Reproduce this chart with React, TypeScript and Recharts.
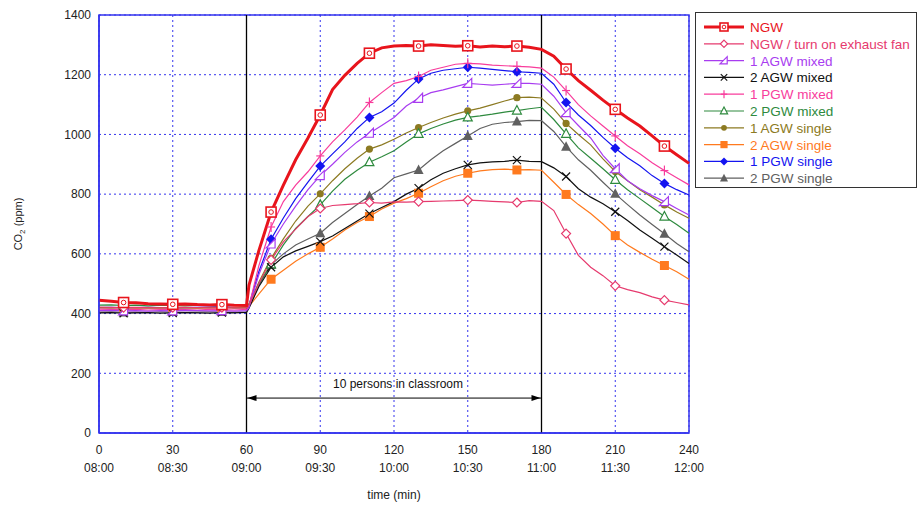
import React from 'react'
import {
    LineChart,
    Line,
    XAxis,
    YAxis,
    CartesianGrid,
    ReferenceLine,
    ReferenceArea,
    Label
} from 'recharts'

const FONT = '"Liberation Sans", Arial, sans-serif'
const BLUE = '#3434ee'

// time in minutes after 08:00
const minutes = [
    0, 5, 10, 15, 20, 25, 30, 35, 40, 45, 50, 55, 60, 61, 65, 70, 75, 80, 85, 90, 95, 100, 105, 110, 115,
    120, 125, 130, 135, 140, 145, 150, 155, 160, 165, 170, 175, 180, 185, 190, 195, 200, 205, 210, 215,
    220, 225, 230, 235, 240
]

const xTicks = [0, 30, 60, 90, 120, 150, 180, 210, 240]
const clockLabels = ['08:00', '08:30', '09:00', '09:30', '10:00', '10:30', '11:00', '11:30', '12:00']
const yTicks = [0, 200, 400, 600, 800, 1000, 1200, 1400]

// CO2 (ppm) per series
const ngw = [
    445, 441, 437, 436, 433, 432, 431, 432, 430, 429, 430, 428, 427, 495,
    610, 740, 830, 915, 988, 1065, 1150, 1198, 1238, 1272, 1290, 1296, 1298, 1296, 1300, 1298, 1295, 1297,
    1293, 1296, 1294, 1296, 1292, 1285, 1262, 1219, 1180, 1148, 1115, 1084, 1055, 1028, 995, 961, 932, 903
]
const ngwFan = [
    422, 421, 420, 421, 420, 419, 420, 421, 420, 419, 420, 419, 418, 428,
    500, 580, 640, 683, 725, 752, 762, 765, 768, 772, 770, 774, 773, 775, 776, 777, 778, 780,
    778, 776, 774, 772, 778, 776, 745, 668, 595, 555, 527, 493, 480, 470, 456, 445, 437, 429
]
const agw1Mixed = [
    410, 411, 409, 410, 408, 410, 409, 411, 410, 409, 410, 408, 410, 420,
    530, 633, 700, 760, 815, 862, 900, 940, 975, 1004, 1030, 1057, 1095, 1121, 1140, 1149, 1160, 1171,
    1168, 1165, 1168, 1171, 1171, 1168, 1128, 1073, 1030, 988, 930, 885, 845, 818, 795, 775, 752, 730
]
const agw2Mixed = [
    402, 403, 401, 402, 403, 401, 402, 403, 402, 401, 403, 402, 404, 418,
    490, 555, 590, 610, 625, 641, 660, 685, 710, 735, 755, 775, 800, 820, 848, 870, 885, 898,
    905, 908, 910, 914, 910, 909, 888, 859, 818, 790, 768, 741, 712, 680, 652, 624, 596, 568
]
const pgw1Mixed = [
    415, 414, 413, 414, 412, 413, 414, 413, 412, 414, 413, 412, 414, 424,
    560, 690, 775, 830, 875, 928, 975, 1015, 1058, 1107, 1140, 1171, 1180, 1194, 1215, 1225, 1235, 1238,
    1236, 1232, 1230, 1228, 1226, 1222, 1192, 1147, 1100, 1062, 1028, 995, 962, 935, 905, 879, 855, 831
]
const pgw2Mixed = [
    428, 429, 427, 428, 426, 428, 427, 426, 428, 427, 426, 428, 426, 432,
    500, 565, 630, 685, 725, 764, 810, 850, 880, 907, 925, 945, 975, 1002, 1020, 1035, 1048, 1057,
    1062, 1068, 1075, 1080, 1086, 1091, 1050, 1002, 955, 920, 885, 848, 815, 785, 755, 725, 698, 669
]
const agw1Single = [
    420, 419, 421, 420, 419, 420, 418, 420, 419, 420, 421, 419, 420, 428,
    505, 585, 650, 710, 760, 801, 845, 885, 920, 951, 965, 984, 1005, 1023, 1040, 1055, 1068, 1079,
    1088, 1100, 1112, 1123, 1125, 1122, 1085, 1037, 1000, 965, 918, 876, 845, 815, 790, 764, 740, 719
]
const agw2Single = [
    420, 419, 421, 418, 420, 419, 421, 420, 418, 420, 419, 421, 420, 424,
    465, 515, 545, 575, 600, 622, 650, 680, 705, 725, 750, 770, 785, 803, 825, 845, 860, 870,
    878, 882, 884, 881, 882, 880, 840, 799, 765, 735, 700, 661, 630, 605, 582, 561, 540, 515
]
const pgw1Single = [
    420, 421, 419, 420, 421, 420, 419, 420, 421, 422, 423, 420, 421, 428,
    540, 649, 720, 785, 840, 894, 935, 975, 1020, 1057, 1076, 1105, 1148, 1186, 1205, 1215, 1220, 1225,
    1222, 1218, 1214, 1210, 1208, 1205, 1168, 1107, 1065, 1030, 990, 954, 922, 895, 862, 836, 815, 797
]
const pgw2Single = [
    405, 406, 404, 405, 404, 406, 405, 404, 405, 406, 405, 404, 406, 420,
    495, 563, 600, 630, 650, 669, 705, 735, 765, 794, 820, 855, 868, 881, 915, 945, 970, 995,
    1020, 1034, 1040, 1043, 1047, 1046, 1010, 959, 915, 880, 840, 801, 765, 730, 698, 667, 635, 607
]

const occupiedFrom = 60
const occupiedTo = 180
const arrowLevel = 117

type Shape = 'ngw' | 'diamondOpen' | 'halfTri' | 'cross' | 'plus' | 'triOpen' | 'circle' | 'square' | 'diamond' | 'tri'

const series: { key: string; name: string; color: string; width: number; shape: Shape; values: number[] }[] = [
    { key: 'ngw', name: 'NGW', color: '#e8141c', width: 3, shape: 'ngw', values: ngw },
    { key: 'ngwFan', name: 'NGW / turn on exhaust fan', color: '#e63a6e', width: 1.2, shape: 'diamondOpen', values: ngwFan },
    { key: 'agw1Mixed', name: '1 AGW mixed', color: '#a83cf0', width: 1.2, shape: 'halfTri', values: agw1Mixed },
    { key: 'agw2Mixed', name: '2 AGW mixed', color: '#111111', width: 1.2, shape: 'cross', values: agw2Mixed },
    { key: 'pgw1Mixed', name: '1 PGW mixed', color: '#f83c9c', width: 1.2, shape: 'plus', values: pgw1Mixed },
    { key: 'pgw2Mixed', name: '2 PGW mixed', color: '#2e8a3e', width: 1.2, shape: 'triOpen', values: pgw2Mixed },
    { key: 'agw1Single', name: '1 AGW single', color: '#8c7a22', width: 1.2, shape: 'circle', values: agw1Single },
    { key: 'agw2Single', name: '2 AGW single', color: '#ff7a1e', width: 1.2, shape: 'square', values: agw2Single },
    { key: 'pgw1Single', name: '1 PGW single', color: '#1414f0', width: 1.2, shape: 'diamond', values: pgw1Single },
    { key: 'pgw2Single', name: '2 PGW single', color: '#606060', width: 1.2, shape: 'tri', values: pgw2Single }
]

const data = minutes.map((t, i) => {
    const row: Record<string, number> = { t }
    series.forEach((s) => {
        row[s.key] = s.values[i]
    })
    return row
})

function Marker({ shape, cx, cy, color, small }: { shape: Shape; cx: number; cy: number; color: string; small?: boolean }) {
    const k = small ? 0.8 : 1
    switch (shape) {
        case 'ngw':
            return (
                <g>
                    <rect x={cx - 5 * k} y={cy - 5 * k} width={10 * k} height={10 * k} fill="#fff" stroke={color} strokeWidth={1.6} />
                    <circle cx={cx} cy={cy} r={2.3 * k} fill="none" stroke={color} strokeWidth={1} />
                </g>
            )
        case 'diamondOpen':
            return <polygon points={`${cx},${cy - 4.5 * k} ${cx + 4.5 * k},${cy} ${cx},${cy + 4.5 * k} ${cx - 4.5 * k},${cy}`} fill="#fff" stroke={color} strokeWidth={1.2} />
        case 'halfTri':
            return <polygon points={`${cx - 5 * k},${cy + 4 * k} ${cx + 4 * k},${cy + 4 * k} ${cx + 4 * k},${cy - 5 * k}`} fill="#fff" stroke={color} strokeWidth={1.2} />
        case 'cross':
            return (
                <g stroke={color} strokeWidth={1.2}>
                    <line x1={cx - 4 * k} y1={cy - 4 * k} x2={cx + 4 * k} y2={cy + 4 * k} />
                    <line x1={cx - 4 * k} y1={cy + 4 * k} x2={cx + 4 * k} y2={cy - 4 * k} />
                </g>
            )
        case 'plus':
            return (
                <g stroke={color} strokeWidth={1.2}>
                    <line x1={cx} y1={cy - 5 * k} x2={cx} y2={cy + 5 * k} />
                    <line x1={cx - 4 * k} y1={cy} x2={cx + 4 * k} y2={cy} />
                </g>
            )
        case 'triOpen':
            return <polygon points={`${cx},${cy - 5 * k} ${cx + 4.5 * k},${cy + 3.5 * k} ${cx - 4.5 * k},${cy + 3.5 * k}`} fill="#fff" stroke={color} strokeWidth={1.2} />
        case 'circle':
            return <circle cx={cx} cy={cy} r={3.6 * k} fill={color} />
        case 'square':
            return <rect x={cx - 4.5 * k} y={cy - 4.5 * k} width={9 * k} height={9 * k} fill={color} />
        case 'diamond':
            return <polygon points={`${cx},${cy - 5 * k} ${cx + 5 * k},${cy} ${cx},${cy + 5 * k} ${cx - 5 * k},${cy}`} fill={color} />
        case 'tri':
            return <polygon points={`${cx},${cy - 5.5 * k} ${cx + 5 * k},${cy + 4 * k} ${cx - 5 * k},${cy + 4 * k}`} fill={color} />
    }
    return null
}

function TimeTick(props: any) {
    const { x, y, payload, index } = props
    return (
        <text x={x} y={y} textAnchor="middle" fontSize={12} fill="#222" fontFamily={FONT}>
            <tspan x={x} dy={13}>{payload.value}</tspan>
            <tspan x={x} dy={18}>{clockLabels[index]}</tspan>
        </text>
    )
}

function PeriodArrow(props: any) {
    const { x1, y1, x2 } = props
    return (
        <g>
            <line x1={x1} y1={y1} x2={x2} y2={y1} stroke="#000" strokeWidth={1} />
            <polygon points={`${x1 + 1},${y1} ${x1 + 10},${y1 - 3} ${x1 + 10},${y1 + 3}`} fill="#000" />
            <polygon points={`${x2 - 1},${y1} ${x2 - 10},${y1 - 3} ${x2 - 10},${y1 + 3}`} fill="#000" />
            <text x={(x1 + x2) / 2 + 4} y={y1 - 10} textAnchor="middle" fontSize={12} fill="#111" fontFamily={FONT}>
                10 persons in classroom
            </text>
        </g>
    )
}

function ChartLegend() {
    return (
        <div
            style={{
                position: 'absolute',
                left: 695,
                top: 12,
                width: 222,
                height: 176,
                border: '1px solid #333',
                boxSizing: 'border-box',
                background: '#fff'
            }}
        >
            <svg width={222} height={176}>
                {series.map((s, i) => {
                    const cy = 14 + i * 16.8
                    return (
                        <g key={s.key}>
                            <line x1={8} y1={cy} x2={48} y2={cy} stroke={s.color} strokeWidth={s.width} />
                            <Marker shape={s.shape} cx={28} cy={cy} color={s.color} small />
                            <text x={54} y={cy + 5} fontSize={13.5} fill={s.color} fontFamily={FONT}>
                                {s.name}
                            </text>
                        </g>
                    )
                })}
            </svg>
        </div>
    )
}

export default function App() {
    const drawOrder = [...series].reverse()
    return (
        <div style={{ position: 'absolute', left: 0, top: 0, width: 917, height: 505, background: '#fff', fontFamily: FONT }}>
            <LineChart width={917} height={505} data={data} margin={{ top: 15, right: 228, bottom: 22, left: 0 }}>
                <CartesianGrid stroke={BLUE} strokeDasharray="2 3" />
                <XAxis
                    type="number"
                    dataKey="t"
                    domain={[0, 240]}
                    ticks={xTicks}
                    interval={0}
                    tick={<TimeTick />}
                    tickLine={false}
                    axisLine={{ stroke: BLUE, strokeWidth: 1.5 }}
                    height={50}
                >
                    <Label
                        content={(p: any) => (
                            <text
                                x={p.viewBox.x + p.viewBox.width / 2}
                                y={p.viewBox.y + 66}
                                textAnchor="middle"
                                fontSize={12}
                                fill="#222"
                                fontFamily={FONT}
                            >
                                time (min)
                            </text>
                        )}
                    />
                </XAxis>
                <YAxis
                    domain={[0, 1400]}
                    ticks={yTicks}
                    interval={0}
                    tickLine={false}
                    axisLine={{ stroke: BLUE, strokeWidth: 1.5 }}
                    tick={{ fontSize: 12, fill: '#222', fontFamily: FONT }}
                    width={99}
                >
                    <Label
                        content={(p: any) => {
                            const x = p.viewBox.x + 22
                            const y = p.viewBox.y + p.viewBox.height / 2
                            return (
                                <text x={x} y={y} transform={`rotate(-90 ${x} ${y})`} textAnchor="middle" fontSize={11} fill="#222" fontFamily={FONT}>
                                    CO
                                    <tspan fontSize={8} dy={3}>2</tspan>
                                    <tspan dy={-3}> (ppm)</tspan>
                                </text>
                            )
                        }}
                    />
                </YAxis>
                <ReferenceArea x1={0} x2={240} y1={0} y2={1400} fill="none" stroke={BLUE} strokeWidth={1.5} />
                <ReferenceLine x={occupiedFrom} stroke="#000" strokeWidth={1.3} />
                <ReferenceLine x={occupiedTo} stroke="#000" strokeWidth={1.3} />
                <ReferenceLine
                    segment={[
                        { x: occupiedFrom, y: arrowLevel },
                        { x: occupiedTo, y: arrowLevel }
                    ]}
                    shape={<PeriodArrow />}
                />
                {drawOrder.map((s) => (
                    <Line
                        key={s.key}
                        type="linear"
                        dataKey={s.key}
                        name={s.name}
                        stroke={s.color}
                        strokeWidth={s.width}
                        isAnimationActive={false}
                        dot={(p: any) =>
                            p.payload.t % 20 === 10 ? (
                                <Marker key={`${s.key}-${p.index}`} shape={s.shape} cx={p.cx} cy={p.cy} color={s.color} />
                            ) : (
                                <g key={`${s.key}-${p.index}`} />
                            )
                        }
                        activeDot={false}
                    />
                ))}
            </LineChart>
            <ChartLegend />
        </div>
    )
}
